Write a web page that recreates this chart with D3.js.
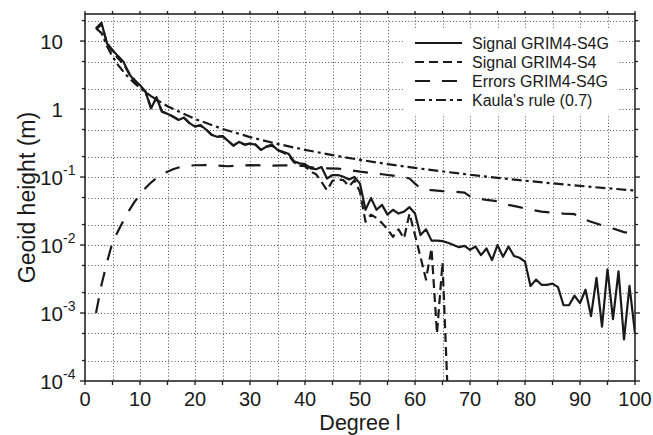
<!DOCTYPE html>
<html><head><meta charset="utf-8">
<script src="https://cdn.jsdelivr.net/npm/d3@7"></script>
<style>
body{margin:0;background:#fff}
svg{display:block}
text{font-family:"Liberation Sans",Arial,Helvetica,sans-serif;fill:#1a1a1a}
</style></head><body>
<svg id="c" width="653" height="435"></svg>
<script>
// ---- data ----
const signalS4GDeg = d3.range(2, 101);
const signalS4G = [15.4,18.6,9.2,7.4,6.0,4.96,3.3,2.6,2.25,1.8,
  1.02,1.49,0.91,0.85,0.77,0.69,0.75,0.62,0.55,0.58,
  0.50,0.42,0.39,0.40,0.34,0.29,0.33,0.30,0.31,0.30,
  0.25,0.28,0.30,0.25,0.235,0.22,0.17,0.159,0.155,0.134,
  0.13,0.14,0.095,0.107,0.107,0.101,0.092,0.10,0.08,0.033,
  0.049,0.033,0.039,0.028,0.033,0.029,0.031,0.036,0.029,0.014,
  0.017,0.0116,0.0116,0.0114,0.0108,0.010,0.0093,0.0097,0.0085,0.0095,
  0.0071,0.0089,0.006,0.010,0.0067,0.0095,0.0069,0.0065,0.0057,0.0025,
  0.0031,0.0026,0.0026,0.0027,0.0024,0.0013,0.0013,0.0018,0.0014,0.0022,
  0.0009,0.0033,0.00063,0.0044,0.00081,0.0041,0.00041,0.0025,0.0005];

const signalS4Deg = d3.range(2, 67);
const signalS4 = [15.0,17.5,9.5,7.0,5.6,4.6,3.4,2.7,2.2,1.8,
  1.05,1.45,0.92,0.85,0.78,0.70,0.74,0.62,0.56,0.57,
  0.50,0.42,0.39,0.40,0.34,0.29,0.33,0.30,0.31,0.30,
  0.25,0.28,0.29,0.25,0.23,0.21,0.165,0.15,0.145,0.12,
  0.11,0.085,0.064,0.088,0.092,0.09,0.073,0.09,0.06,0.022,
  0.028,0.025,0.021,0.017,0.0132,0.017,0.0125,0.029,0.014,0.0067,
  0.0031,0.0089,0.0005,0.0055,0.00005];

const errorsDeg = [2,3,4,5,6,7,8,9,10,11,12,13,14,15,16,17,18,19,20,22,24,26,28,30,32,34,36,38,40,42,44,46,48,50,52,54,56,58,59,60,61,63,65,67,69,70,71,73,75,77,79,81,83,85,87,89,90,92,94,96,98,100];
const errors = [0.001,0.0026,0.0056,0.011,0.016,0.023,0.032,0.043,0.055,0.069,0.083,0.097,0.11,0.12,0.13,0.138,0.143,0.147,0.149,0.15,0.148,0.144,0.147,0.15,0.148,0.147,0.148,0.15,0.145,0.135,0.134,0.133,0.127,0.12,0.115,0.11,0.105,0.1,0.095,0.08,0.068,0.064,0.062,0.061,0.059,0.052,0.049,0.046,0.044,0.039,0.036,0.033,0.031,0.030,0.029,0.0284,0.025,0.022,0.0195,0.0175,0.0155,0.0145];

const kaulaDeg = [2,3,4,5,6,7,8,9,10,12,15,20,25,30,35,40,45,50,55,60,65,70,75,80,85,90,95,100];
const kaula = [15.5,13.1,8.36,5.92,4.47,3.53,2.87,2.40,2.04,1.55,1.10,0.714,0.510,0.387,0.307,0.251,0.210,0.179,0.155,0.136,0.121,0.108,0.0974,0.0884,0.0807,0.0741,0.0683,0.0632];

const xTickLabels = [0,10,20,30,40,50,60,70,80,90,100];
const yTickExps = [1,0,-1,-2,-3,-4];
const legendLabels = ["Signal GRIM4-S4G","Signal GRIM4-S4","Errors GRIM4-S4G","Kaula's rule (0.7)"];

// ---- layout ----
const L = 85, R = 635, T = 14, B = 381;
const svg = d3.select("#c");
const x = d3.scaleLinear().domain([0, 100]).range([L, R]);
const y = d3.scaleLog().domain([1e-4, 25]).range([B, T]);
const ink = "#1a1a1a";

// grid
const grid = svg.append("g").attr("stroke", "#555").attr("stroke-width", 1).attr("stroke-dasharray", "1,2.2");
const xGrid = d3.range(5, 100, 5);
grid.selectAll("line.vx").data(xGrid).join("line")
  .attr("x1", d => Math.round(x(d)) + 0.5).attr("x2", d => Math.round(x(d)) + 0.5)
  .attr("y1", T).attr("y2", B);
const yGrid = [];
for (let e = -4; e <= 1; e++) [1, 2, 5].forEach(m => { const v = m * Math.pow(10, e); if (v > 1e-4 * 1.01 && v < 25) yGrid.push(v); });
grid.selectAll("line.hy").data(yGrid).join("line")
  .attr("x1", L).attr("x2", R)
  .attr("y1", d => Math.round(y(d)) + 0.5).attr("y2", d => Math.round(y(d)) + 0.5);

// legend background
const legX = 405, legY = 29, legW = 212, legH = 85;
svg.append("rect").attr("x", legX).attr("y", legY).attr("width", legW).attr("height", legH).attr("fill", "#fff");

// clip
svg.append("clipPath").attr("id", "clip").append("rect").attr("x", L).attr("y", T).attr("width", R - L).attr("height", B - T);

const line = d3.line().x(d => x(d[0])).y(d => y(d[1]));
const plot = svg.append("g").attr("clip-path", "url(#clip)").attr("fill", "none").attr("stroke", ink).attr("stroke-width", 2.2);

const styles = [
  {dash: null},
  {dash: "9,5"},
  {dash: "15,12"},
  {dash: "10,4,3,4"}
];
const series = [
  d3.zip(signalS4GDeg, signalS4G),
  d3.zip(signalS4Deg, signalS4),
  d3.zip(errorsDeg, errors),
  d3.zip(kaulaDeg, kaula)
];
[3, 2, 1, 0].forEach(i => {
  plot.append("path").datum(series[i]).attr("d", line)
    .attr("stroke-dasharray", styles[i].dash).attr("stroke-linejoin", "round");
});

// frame
svg.append("rect").attr("x", L).attr("y", T).attr("width", R - L).attr("height", B - T)
  .attr("fill", "none").attr("stroke", ink).attr("stroke-width", 1.5);

// ticks
const tk = svg.append("g").attr("stroke", ink).attr("stroke-width", 1.3);
d3.range(0, 101, 5).forEach(d => {
  const xx = x(d);
  tk.append("line").attr("x1", xx).attr("x2", xx).attr("y1", B).attr("y2", B + 4);
  tk.append("line").attr("x1", xx).attr("x2", xx).attr("y1", T).attr("y2", T - 3);
});
yTickExps.forEach(e => {
  const yy = y(Math.pow(10, e));
  tk.append("line").attr("x1", L - 5).attr("x2", L).attr("y1", yy).attr("y2", yy);
  tk.append("line").attr("x1", R).attr("x2", R + 5).attr("y1", yy).attr("y2", yy);
});
yGrid.filter(v => Math.abs(Math.log10(v) - Math.round(Math.log10(v))) > 0.01).forEach(v => {
  const yy = y(v);
  tk.append("line").attr("x1", L - 3).attr("x2", L).attr("y1", yy).attr("y2", yy);
  tk.append("line").attr("x1", R).attr("x2", R + 3).attr("y1", yy).attr("y2", yy);
});

// x tick labels
svg.append("g").selectAll("text").data(xTickLabels).join("text")
  .attr("x", d => x(d)).attr("y", 405.5).attr("text-anchor", "middle")
  .attr("font-size", 20).text(d => d);

// y tick labels
const yl = svg.append("g");
yTickExps.forEach(e => {
  const yy = y(Math.pow(10, e));
  const base = e === 0 ? "1" : "10";
  yl.append("text").attr("x", 63).attr("y", yy + 7.5).attr("text-anchor", "end").attr("font-size", 20.5).text(base);
  if (e < 0) {
    yl.append("text").attr("x", 63).attr("y", yy - 2).attr("text-anchor", "start").attr("font-size", 14).text(e);
  }
});

// axis titles
svg.append("text").attr("x", (L + R) / 2).attr("y", 430).attr("text-anchor", "middle").attr("font-size", 21.5).text("Degree l");
svg.append("text").attr("transform", `translate(35,${(T + B) / 2}) rotate(-90)`).attr("text-anchor", "middle")
  .attr("font-size", 23).text("Geoid height (m)");

// legend
const lg = svg.append("g");
legendLabels.forEach((lab, i) => {
  const yy = 43 + i * 19;
  lg.append("line").attr("x1", 415).attr("x2", 462).attr("y1", yy).attr("y2", yy)
    .attr("stroke", ink).attr("stroke-width", 2.2).attr("stroke-dasharray", styles[i].dash);
  lg.append("text").attr("x", 472).attr("y", yy).attr("dy", "0.35em").attr("font-size", 16).text(lab);
});
</script></body></html>
